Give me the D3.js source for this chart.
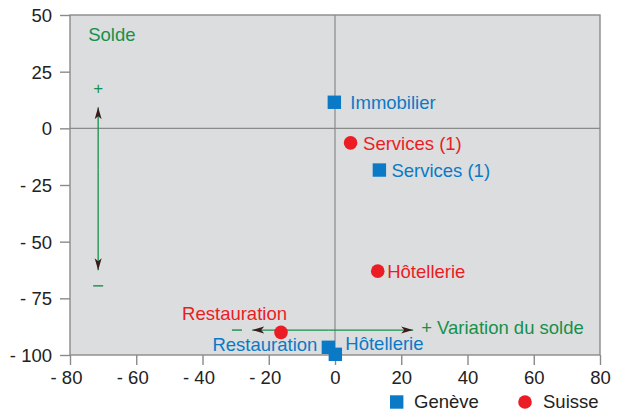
<!DOCTYPE html>
<html>
<head>
<meta charset="utf-8">
<script src="https://cdn.jsdelivr.net/npm/d3@7"></script>
<style>
  body { margin: 0; background: #fff; }
  svg { font-family: "Liberation Sans", Arial, sans-serif; }
</style>
</head>
<body>
<div id="chart"></div>
<script>
// values
var geneveNames = ["Immobilier", "Services (1)", "Restauration", "Hôtellerie"];
var geneveX = [-0.2, 13.4, -2, 0.1];
var geneveY = [11.5, -18.4, -96.6, -99.7];

var suisseNames = ["Services (1)", "Hôtellerie", "Restauration"];
var suisseX = [4.7, 12.9, -16.3];
var suisseY = [-6.4, -63, -90];

var xTicks = [-80, -60, -40, -20, 0, 20, 40, 60, 80];
var yTicks = [50, 25, 0, -25, -50, -75, -100];

// label placement (pixels from the marker)
var labelPos = {
  "g:Immobilier": {dx: 16, dy: 0, anchor: "start"},
  "g:Services (1)": {dx: 12, dy: 0, anchor: "start"},
  "g:Restauration": {dx: -11, dy: -3, anchor: "end"},
  "g:Hôtellerie": {dx: 10, dy: -11, anchor: "start"},
  "s:Services (1)": {dx: 12.5, dy: 1, anchor: "start"},
  "s:Hôtellerie": {dx: 9.5, dy: 0, anchor: "start"},
  "s:Restauration": {dx: 6, dy: -18.5, anchor: "end"}
};

var blue = "#0a7ac6", red = "#ec1c24", green = "#16904a";
var fs = "18.5px";

var margin = {top: 15, right: 17, bottom: 59, left: 70},
    width = 617 - margin.left - margin.right,
    height = 414 - margin.top - margin.bottom;

var svg = d3.select("#chart")
  .append("svg")
  .attr("width", 617)
  .attr("height", 414);

var defs = svg.append("defs");
defs.append("marker")
  .attr("id", "head")
  .attr("viewBox", "0 -5 12 10")
  .attr("refX", 12)
  .attr("refY", 0)
  .attr("markerWidth", 12)
  .attr("markerHeight", 10)
  .attr("markerUnits", "userSpaceOnUse")
  .attr("orient", "auto")
  .append("path")
  .attr("d", "M0,-3.5L12,0L0,3.5L3,0Z")
  .attr("fill", "#3b1c1c");

var g = svg.append("g")
  .attr("transform", `translate(${margin.left}, ${margin.top})`);

var x = d3.scaleLinear().domain([-80, 80]).range([0, width]);
var y = d3.scaleLinear().domain([-100, 50]).range([height, 0]);

g.append("rect")
  .attr("width", width)
  .attr("height", height)
  .attr("fill", "#dcdddf");

// zero lines
g.append("line")
  .attr("x1", 0).attr("x2", width)
  .attr("y1", y(0)).attr("y2", y(0))
  .attr("stroke", "#8a8a8a").attr("stroke-width", 1.2);
g.append("line")
  .attr("x1", x(0)).attr("x2", x(0))
  .attr("y1", 0).attr("y2", height)
  .attr("stroke", "#8a8a8a").attr("stroke-width", 1.2);

g.append("rect")
  .attr("width", width)
  .attr("height", height)
  .attr("fill", "none")
  .attr("stroke", "#8a8a8a")
  .attr("stroke-width", 1.4);

// axes
var yAxis = g.append("g")
  .call(d3.axisLeft(y).tickValues(yTicks).tickSize(10).tickPadding(8)
    .tickFormat(d => d < 0 ? "- " + (-d) : d));
var xAxis = g.append("g")
  .attr("transform", `translate(0, ${height})`)
  .call(d3.axisBottom(x).tickValues(xTicks).tickSize(10).tickPadding(6)
    .tickFormat(d => d < 0 ? "- " + (-d) : d));

[xAxis, yAxis].forEach(a => {
  a.select(".domain").remove();
  a.selectAll(".tick line").attr("stroke", "#8a8a8a").attr("stroke-width", 1.4);
  a.selectAll(".tick text")
    .attr("fill", "#222")
    .style("font-size", fs)
    .style("font-family", "'Liberation Sans', Arial, sans-serif");
});
yAxis.selectAll(".tick text").attr("dy", "0.35em").attr("x", -18);
xAxis.selectAll(".tick text").attr("dx", d => d < 0 ? "-4" : "0");

// annotations
g.append("text")
  .attr("x", x(-74.5)).attr("y", y(38.5))
  .attr("fill", green).style("font-size", fs)
  .text("Solde");

g.append("line")
  .attr("x1", x(-71.5)).attr("x2", x(-71.5))
  .attr("y1", y(-18)).attr("y2", y(9.3))
  .attr("stroke", green).attr("stroke-width", 1.3)
  .attr("marker-end", "url(#head)");
g.append("line")
  .attr("x1", x(-71.5)).attr("x2", x(-71.5))
  .attr("y1", y(-18)).attr("y2", y(-62.6))
  .attr("stroke", green).attr("stroke-width", 1.3)
  .attr("marker-end", "url(#head)");
g.append("text")
  .attr("x", x(-71.5)).attr("y", y(17.6))
  .attr("dy", "0.35em").attr("text-anchor", "middle")
  .attr("fill", green).style("font-size", "17px")
  .text("+");
g.append("line")
  .attr("x1", x(-71.5) - 5).attr("x2", x(-71.5) + 5)
  .attr("y1", y(-69.5)).attr("y2", y(-69.5))
  .attr("stroke", green).attr("stroke-width", 1.4);

g.append("line")
  .attr("x1", x(-2)).attr("x2", x(-25))
  .attr("y1", y(-89)).attr("y2", y(-89))
  .attr("stroke", green).attr("stroke-width", 1.3)
  .attr("marker-end", "url(#head)");
g.append("line")
  .attr("x1", x(-2)).attr("x2", x(23.6))
  .attr("y1", y(-89)).attr("y2", y(-89))
  .attr("stroke", green).attr("stroke-width", 1.3)
  .attr("marker-end", "url(#head)");
g.append("line")
  .attr("x1", x(-29.6) - 5).attr("x2", x(-29.6) + 5)
  .attr("y1", y(-89)).attr("y2", y(-89))
  .attr("stroke", green).attr("stroke-width", 1.4);
g.append("text")
  .attr("x", x(26)).attr("y", y(-89))
  .attr("dy", "0.2em")
  .attr("fill", green).style("font-size", fs)
  .text("+ Variation du solde");

// series
var geneve = geneveNames.map((n, i) => ({name: n, x: geneveX[i], y: geneveY[i], key: "g:" + n}));
var suisse = suisseNames.map((n, i) => ({name: n, x: suisseX[i], y: suisseY[i], key: "s:" + n}));

g.selectAll(".sq").data(geneve).enter()
  .append("rect")
  .attr("x", d => x(d.x) - 6.7)
  .attr("y", d => y(d.y) - 6.7)
  .attr("width", 13.4).attr("height", 13.4)
  .attr("fill", blue);

g.selectAll(".dot").data(suisse).enter()
  .append("circle")
  .attr("cx", d => x(d.x))
  .attr("cy", d => y(d.y))
  .attr("r", 6.8)
  .attr("fill", red);

function addLabels(data, color) {
  g.selectAll(null).data(data).enter()
    .append("text")
    .attr("x", d => x(d.x) + labelPos[d.key].dx)
    .attr("y", d => y(d.y) + labelPos[d.key].dy)
    .attr("dy", "0.35em")
    .attr("text-anchor", d => labelPos[d.key].anchor)
    .attr("fill", color)
    .style("font-size", fs)
    .text(d => d.name);
}
addLabels(geneve, blue);
addLabels(suisse, red);

// legend
var legend = svg.append("g").attr("transform", "translate(0, 402)");
legend.append("rect")
  .attr("x", 390).attr("y", -6.7).attr("width", 13.4).attr("height", 13.4)
  .attr("fill", blue);
legend.append("text")
  .attr("x", 414).attr("dy", "0.35em")
  .attr("fill", "#222").style("font-size", fs)
  .text("Genève");
legend.append("circle")
  .attr("cx", 525).attr("r", 6.8)
  .attr("fill", red);
legend.append("text")
  .attr("x", 543).attr("dy", "0.35em")
  .attr("fill", "#222").style("font-size", fs)
  .text("Suisse");
</script>
</body>
</html>
